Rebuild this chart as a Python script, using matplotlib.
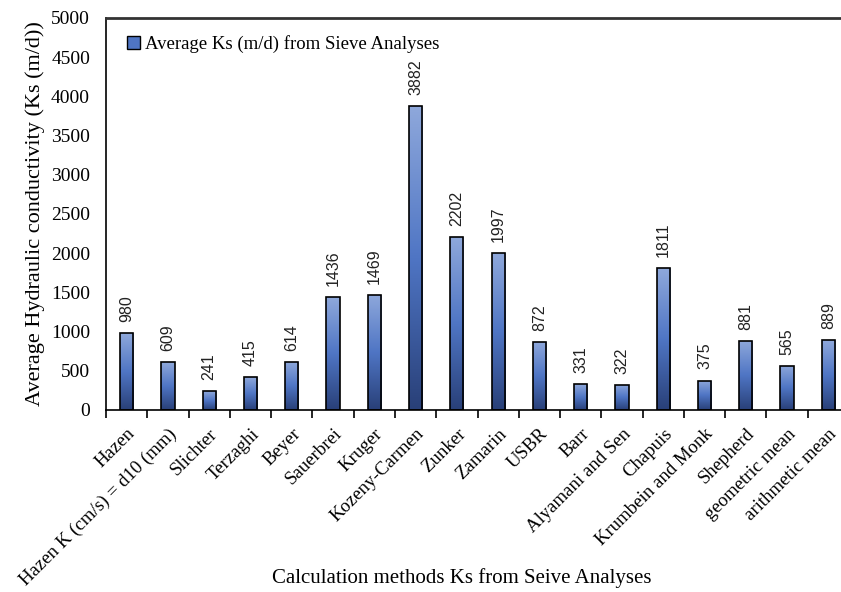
import numpy as np
import matplotlib
matplotlib.use("Agg")
import matplotlib.pyplot as plt
from matplotlib.colors import LinearSegmentedColormap
from matplotlib.patches import Patch

methods = [
    "Hazen", "Hazen K (cm/s) = d10 (mm)", "Slichter", "Terzaghi", "Beyer",
    "Sauerbrei", "Kruger", "Kozeny-Carmen", "Zunker", "Zamarin", "USBR",
    "Barr", "Alyamani and Sen", "Chapuis", "Krumbein and Monk", "Shepherd",
    "geometric mean", "arithmetic mean",
]
ks_values = [980, 609, 241, 415, 614, 1436, 1469, 3882, 2202, 1997, 872,
             331, 322, 1811, 375, 881, 565, 889]
y_ticks = list(range(0, 5001, 500))

serif = ["Liberation Serif", "DejaVu Serif"]
num_font = ["Liberation Sans Narrow", "Liberation Sans", "DejaVu Sans"]

fig = plt.figure(figsize=(8.41, 5.92), dpi=100)
ax = fig.add_axes([106 / 841, 1 - 410 / 592, (849 - 106) / 841, (410 - 18) / 592])

x = np.arange(len(methods))
bars = ax.bar(x, ks_values, width=0.32, facecolor="none", edgecolor="black",
              linewidth=1.2, zorder=3)

# vertical light-to-dark blue fill for every bar
cmap = LinearSegmentedColormap.from_list(
    "bar_fill", [(0.16, 0.25, 0.47), (0.31, 0.46, 0.77), (0.56, 0.66, 0.86)])
grad = np.linspace(0, 1, 256).reshape(-1, 1)
for b in bars:
    x0, w, h = b.get_x(), b.get_width(), b.get_height()
    im = ax.imshow(grad, cmap=cmap, origin="lower", aspect="auto",
                   extent=(x0, x0 + w, 0, h), zorder=2, interpolation="bicubic")
    im.set_clip_path(b)

for xi, v in zip(x, ks_values):
    ax.annotate(f"{v}", (xi, v), xytext=(0, 8), textcoords="offset points",
                rotation=90, ha="center", va="bottom", fontsize=11.5,
                family=num_font, color="#222222")

ax.set_xlim(-0.5, len(methods) - 0.5)
ax.set_ylim(0, 5000)
ax.set_yticks(y_ticks)
ax.set_yticklabels([str(t) for t in y_ticks], family=serif, fontsize=14)
ax.tick_params(axis="y", length=0, pad=11.5)

ax.set_xticks(x)
ax.set_xticklabels(methods, rotation=45, ha="right", rotation_mode="anchor",
                   family=serif, fontsize=13.5)
ax.tick_params(axis="x", which="major", length=0, pad=11)
ax.set_xticks(np.arange(-0.5, len(methods), 1.0), minor=True)
ax.tick_params(axis="x", which="minor", length=6, width=1.2, direction="out")

for side in ("left", "bottom"):
    ax.spines[side].set_linewidth(1.2)
ax.spines["top"].set_linewidth(2.0)
ax.spines["top"].set_color("#333333")
ax.spines["right"].set_visible(False)

ax.set_ylabel("Average Hydraulic conductivity (Ks (m/d))", family=serif,
              fontsize=16, labelpad=4)
fig.text(462 / 841, 1 - 578 / 592, "Calculation methods Ks from Seive Analyses",
         family=serif, fontsize=15, ha="center", va="center")

handle = Patch(facecolor=(0.31, 0.46, 0.77), edgecolor="black", linewidth=1.0)
leg = ax.legend([handle], ["Average Ks (m/d) from Sieve Analyses"],
                loc="upper left", bbox_to_anchor=(0.005, 1.0), frameon=False,
                handlelength=0.7, handleheight=0.7, handletextpad=0.3,
                prop={"family": serif, "size": 13.5})

fig.savefig("out.png", dpi=100)
